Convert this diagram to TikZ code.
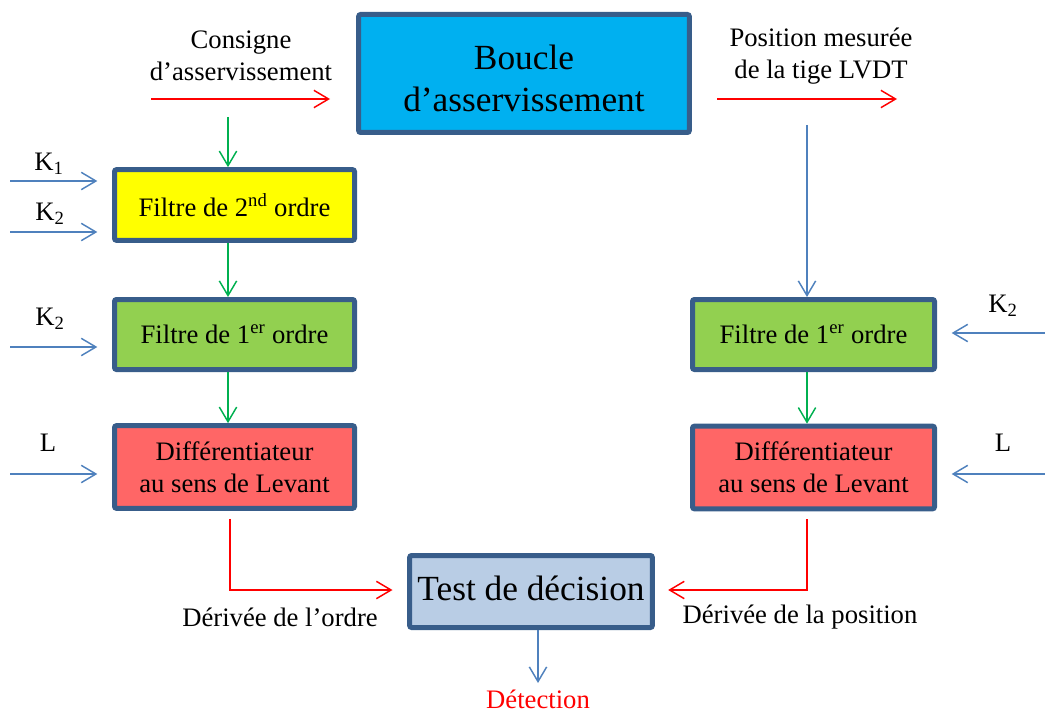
\documentclass[tikz,border=0pt]{standalone}
\usepackage{fontspec}
\setmainfont{Liberation Serif}
\usetikzlibrary{arrows.meta,calc}
\definecolor{bord}{HTML}{385D8A}
\definecolor{cyanb}{HTML}{00B0F0}
\definecolor{yelb}{HTML}{FFFF00}
\definecolor{greenb}{HTML}{92D050}
\definecolor{redb}{HTML}{FF6666}
\definecolor{testb}{HTML}{B9CDE5}
\definecolor{lred}{HTML}{FF0000}
\definecolor{lgreen}{HTML}{00B050}
\definecolor{lblue}{HTML}{4F81BD}
\begin{document}
\begin{tikzpicture}[x=0.75pt,y=-0.75pt,
  box/.style={draw=bord, line width=3.75pt, rounded corners=1.5pt, inner sep=0pt, align=center,
    font=\fontsize{20}{24}\selectfont},
  lbl/.style={align=center, inner sep=0pt, font=\fontsize{20}{24}\selectfont},
  tip/.style={-{Straight Barb[length=11pt,width=13pt,line width=1.1pt]}},
  redarr/.style={tip, draw=lred, line width=1.3pt},
  grarr/.style={tip, draw=lgreen, line width=1.1pt},
  bluarr/.style={tip, draw=lblue, line width=1.1pt}]
\useasboundingbox (0,0) rectangle (1045,713);

% boxes
\node[box, fill=cyanb, minimum width=248pt, minimum height=88.5pt,
  label={[align=center, inner sep=0pt, font=\fontsize{26.5}{31.5}\selectfont, yshift=-3.5pt]center:Boucle\\d’asservissement}]
  (boucle) at (524,73.5) {};
\node[box, fill=yelb, minimum width=180pt, minimum height=53pt] (f2) at (234.5,205) {Filtre de 2\textsuperscript{nd} ordre};
\node[box, fill=greenb, minimum width=180pt, minimum height=52.5pt] (f1L) at (234.5,334.5) {Filtre de 1\textsuperscript{er} ordre};
\node[box, fill=redb, minimum width=180pt, minimum height=62pt] (diffL) at (234.5,467) {Différentiateur\\au sens de Levant};
\node[box, fill=greenb, minimum width=181.5pt, minimum height=52.5pt] (f1R) at (813.5,334.5) {Filtre de 1\textsuperscript{er} ordre};
\node[box, fill=redb, minimum width=181.5pt, minimum height=62pt] (diffR) at (813.5,467.5) {Différentiateur\\au sens de Levant};
\node[box, fill=testb, minimum width=182pt, minimum height=54pt,
  label={[inner sep=0pt, font=\fontsize{26.5}{31.5}\selectfont, yshift=2pt]center:Test de décision}]
  (test) at (531,591.5) {};

% labels
\node[lbl] (consigne) at (241,56) {Consigne\\d’asservissement};
\node[lbl] (posm) at (821,56) {Position mesurée\\de la tige LVDT};
\node[lbl] (lk1) at (49,164) {K\textsubscript{1}};
\node[lbl] (lk2a) at (50,214) {K\textsubscript{2}};
\node[lbl] (lk2b) at (50,319) {K\textsubscript{2}};
\node[lbl] (lL) at (48,443) {L};
\node[lbl] (rk2) at (1003,306) {K\textsubscript{2}};
\node[lbl] (rL) at (1003,443) {L};
\node[lbl] (dord) at (280,617) {Dérivée de l’ordre};
\node[lbl] (dpos) at (800,617) {Dérivée de la position};
\node[lbl, text=lred] (det) at (538,699) {Détection};

% coordinates
\coordinate (cs1) at (151,99); \coordinate (cs2) at (330,99);
\coordinate (pm1) at (717,99); \coordinate (pm2) at (897,99);
\coordinate (g0) at (228,117);
\coordinate (b0) at (807,125);
\coordinate (k1) at (10,181);
\coordinate (k2a) at (10,232);
\coordinate (k2b) at (10,347);
\coordinate (kL) at (10,474);
\coordinate (rk2c) at (1045,333);
\coordinate (rLc) at (1045,474);
\coordinate (rl) at (230,590);
\coordinate (rr) at (807,590);
\coordinate (dt) at (538,683);

% connectors
\draw[redarr] (cs1) -- (cs2);
\draw[redarr] (pm1) -- (pm2);
\draw[grarr] (g0) -- (g0 |- f2.north);
\draw[grarr] (f2.south -| g0) -- (f1L.north -| g0);
\draw[grarr] (f1L.south -| g0) -- (diffL.north -| g0);
\draw[bluarr] (b0) -- (b0 |- f1R.north);
\draw[grarr] (f1R.south -| b0) -- (diffR.north -| b0);
\draw[bluarr, shorten >=11pt] (k1) -- (k1 -| f2.west);
\draw[bluarr, shorten >=11pt] (k2a) -- (k2a -| f2.west);
\draw[bluarr, shorten >=11pt] (k2b) -- (k2b -| f1L.west);
\draw[bluarr, shorten >=11pt] (kL) -- (kL -| diffL.west);
\draw[bluarr, shorten >=11pt] (rk2c) -- (rk2c -| f1R.east);
\draw[bluarr, shorten >=11pt] (rLc) -- (rLc -| diffR.east);
\draw[redarr, shorten >=11pt] ($(diffL.south -| rl)+(0,8)$) -- (rl) -- (rl -| test.west);
\draw[redarr, shorten >=10pt] ($(diffR.south -| rr)+(0,8)$) -- (rr) -- (rr -| test.east);
\draw[bluarr] (test.south -| dt) -- (dt);
\end{tikzpicture}
\end{document}
